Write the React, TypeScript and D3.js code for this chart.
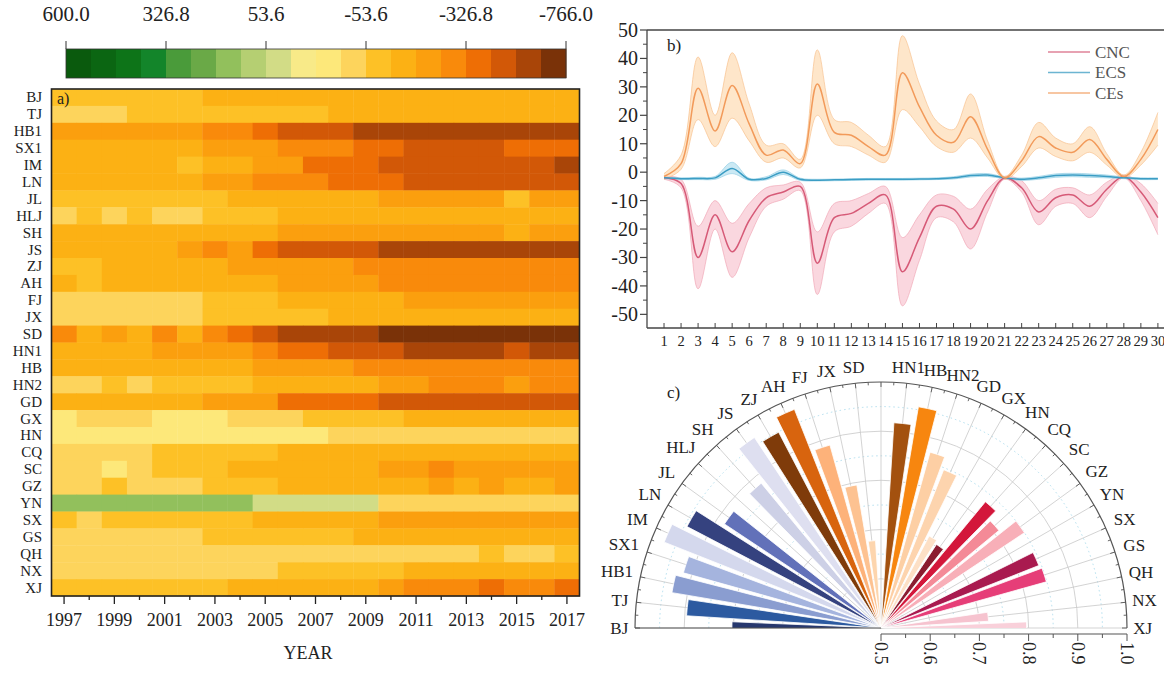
import React from 'react';
import * as d3 from 'd3';

const FONT = '"Liberation Serif", "Times New Roman", "DejaVu Serif", serif';
const W = 1164;
const H = 678;

// ---- panel a data ----
const provinces = ['BJ', 'TJ', 'HB1', 'SX1', 'IM', 'LN', 'JL', 'HLJ', 'SH', 'JS', 'ZJ', 'AH', 'FJ', 'JX', 'SD',
  'HN1', 'HB', 'HN2', 'GD', 'GX', 'HN', 'CQ', 'SC', 'GZ', 'YN', 'SX', 'GS', 'QH', 'NX', 'XJ'];
const years = [1997, 1998, 1999, 2000, 2001, 2002, 2003, 2004, 2005, 2006, 2007, 2008, 2009, 2010,
  2011, 2012, 2013, 2014, 2015, 2016, 2017];
const yearTickLabels = [1997, 1999, 2001, 2003, 2005, 2007, 2009, 2011, 2013, 2015, 2017];

// one row per province, one value per year
const heatValues = [
  [-88, -88, -88, -88, -88, -88, -156, -156, -156, -156, -156, -156, -156, -156, -156, -156, -156, -156, -156, -156, -156],
  [-40, -40, -40, -88, -88, -88, -88, -88, -88, -88, -88, -156, -156, -156, -156, -156, -156, -156, -156, -156, -156],
  [-224, -224, -224, -224, -224, -224, -292, -292, -380, -490, -490, -490, -600, -600, -600, -600, -600, -600, -600, -600, -600],
  [-156, -156, -156, -156, -156, -156, -224, -224, -224, -292, -292, -292, -380, -380, -490, -490, -490, -490, -380, -380, -380],
  [-156, -156, -156, -156, -156, -88, -156, -156, -224, -224, -380, -380, -380, -490, -490, -490, -490, -490, -490, -490, -600],
  [-156, -156, -156, -156, -156, -156, -224, -224, -292, -292, -292, -380, -380, -380, -490, -490, -490, -490, -490, -490, -490],
  [-88, -88, -88, -88, -88, -88, -88, -156, -156, -156, -156, -156, -156, -224, -224, -224, -224, -224, -88, -224, -224],
  [-40, -88, -40, -88, -40, -40, -88, -88, -88, -156, -156, -156, -156, -156, -156, -156, -156, -156, -156, -156, -156],
  [-156, -156, -156, -156, -156, -156, -156, -156, -156, -224, -224, -224, -224, -224, -224, -224, -224, -224, -156, -224, -224],
  [-156, -156, -156, -156, -156, -224, -292, -224, -380, -490, -490, -490, -490, -600, -600, -600, -600, -600, -600, -600, -600],
  [-88, -88, -156, -156, -156, -156, -156, -224, -224, -224, -224, -224, -292, -292, -292, -292, -292, -292, -292, -292, -292],
  [-156, -88, -156, -156, -156, -156, -156, -156, -156, -224, -224, -224, -224, -292, -292, -292, -292, -292, -292, -292, -292],
  [-40, -40, -40, -40, -40, -40, -88, -88, -88, -156, -156, -156, -156, -156, -224, -224, -224, -224, -224, -224, -224],
  [-40, -40, -40, -40, -40, -40, -88, -88, -88, -88, -88, -156, -156, -156, -156, -156, -156, -156, -156, -156, -156],
  [-292, -156, -224, -156, -292, -156, -292, -380, -490, -600, -600, -600, -600, -710, -710, -710, -710, -710, -710, -710, -710],
  [-156, -156, -156, -156, -224, -224, -224, -224, -292, -380, -380, -490, -490, -490, -600, -600, -600, -600, -490, -600, -600],
  [-156, -156, -156, -156, -156, -156, -156, -156, -224, -224, -224, -224, -292, -292, -292, -292, -292, -292, -292, -292, -292],
  [-40, -40, -88, -40, -88, -88, -88, -88, -156, -156, -156, -156, -156, -224, -224, -292, -292, -292, -224, -292, -292],
  [-156, -156, -156, -156, -156, -156, -224, -224, -224, -380, -380, -380, -380, -490, -490, -490, -490, -490, -490, -490, -490],
  [-13, -40, -40, -40, -13, -13, -13, -40, -40, -40, -88, -88, -88, -88, -156, -156, -156, -156, -156, -156, -156],
  [-13, -13, -13, -13, -13, -13, -13, -13, -13, -13, -13, -40, -40, -40, -40, -40, -40, -40, -40, -40, -40],
  [-40, -40, -40, -40, -88, -88, -88, -88, -88, -156, -156, -156, -156, -156, -156, -156, -156, -156, -156, -156, -156],
  [-40, -40, -13, -40, -88, -88, -88, -156, -156, -156, -156, -156, -156, -224, -224, -292, -224, -224, -224, -224, -224],
  [-40, -40, -88, -40, -40, -40, -88, -88, -88, -156, -156, -156, -156, -156, -156, -224, -156, -224, -156, -156, -224],
  [155, 155, 155, 155, 155, 155, 155, 155, 40, 40, 40, 40, 40, -40, -40, -40, -40, -40, -40, -40, -40],
  [-88, -40, -88, -88, -88, -88, -88, -88, -156, -156, -156, -156, -156, -224, -224, -224, -224, -224, -224, -224, -224],
  [-40, -40, -40, -40, -40, -40, -88, -88, -88, -88, -88, -88, -156, -156, -156, -156, -156, -156, -156, -156, -156],
  [-40, -40, -40, -40, -40, -40, -40, -40, -40, -40, -40, -40, -40, -40, -40, -40, -40, -88, -40, -40, -88],
  [-40, -40, -40, -40, -40, -40, -40, -40, -40, -88, -88, -88, -88, -88, -156, -156, -156, -156, -156, -156, -156],
  [-88, -88, -88, -88, -88, -88, -88, -156, -156, -156, -156, -156, -156, -224, -292, -292, -292, -380, -292, -292, -380],
];

const colorbarTicks = ['600.0', '326.8', '53.6', '-53.6', '-326.8', '-766.0'];
const colorEdges = [-656.2, -546.4, -436.6, -326.8, -258.5, -190.2, -121.9, -53.6, -26.8, 0,
  26.8, 53.6, 121.9, 190.2, 258.5, 326.8, 395.1, 463.4, 531.7];
// from 600 (green) to -766 (brown)
const levelColors = ['#0a5a0d', '#0b6612', '#0d7418', '#13852a', '#4a9b3a', '#6aa947', '#92c05c', '#b5cf72',
  '#d2dc86', '#f8ea88', '#fde87a', '#fdd45c', '#fdc126', '#fcb114', '#fb9f0e', '#f98a0b', '#ee6e05',
  '#d25807', '#a94508', '#7a3208'];

// ---- panel b data ----
const steps = [1, 2, 3, 4, 5, 6, 7, 8, 9, 10, 11, 12, 13, 14, 15, 16, 17, 18, 19, 20, 21, 22, 23, 24, 25, 26, 27, 28, 29, 30];
const cncMean = [-2, -4, -30, -15, -28, -17, -9, -7, -5, -32, -16, -14.5, -11, -8, -35, -23, -12, -13, -20, -10, -2, -5.5, -14, -9, -8, -12, -6, -1.5, -7, -16];
const cncHigh = [-1.5, -2.5, -19, -10, -18, -11, -5.5, -4.5, -3.5, -21, -11, -10, -7.5, -5, -23, -15, -8, -8.5, -13, -6, -1.5, -3, -10, -6, -5.5, -8, -3.5, -1, -4, -11];
const cncLow = [-2.5, -5.5, -41, -20, -37, -23, -12, -9.5, -6.5, -43, -21, -19, -14.5, -11, -47, -31, -16, -17.5, -27, -14, -2.5, -7, -18.5, -12, -11, -16, -8.5, -2, -10, -22];
const ecsMean = [-2, -2.3, -2.2, -2, 1.3, -2.5, -2.2, 0, -2.5, -2.8, -2.7, -2.6, -2.5, -2.5, -2.5, -2.4, -2.3, -2, -1.2, -1, -2, -2.5, -2, -1.2, -1, -1.2, -1.5, -2, -2.3, -2.3];
const ecsHigh = [-1.7, -2, -1.8, -1.5, 3.5, -2.1, -1.6, 0.8, -2.1, -2.5, -2.4, -2.3, -2.2, -2.2, -2.2, -2.1, -2, -1.6, -0.7, -0.5, -1.7, -2.1, -1.5, -0.6, -0.4, -0.6, -1, -1.7, -2, -2];
const ecsLow = [-2.3, -2.6, -2.6, -2.5, -0.5, -2.9, -2.7, -0.8, -2.9, -3.1, -3, -2.9, -2.8, -2.8, -2.8, -2.7, -2.6, -2.4, -1.7, -1.5, -2.3, -2.9, -2.5, -1.8, -1.6, -1.8, -2, -2.3, -2.6, -2.6];
const ceMean = [-1.5, 3, 29.5, 14.5, 30.5, 17, 6, 7.8, 3, 31, 14, 13, 9, 6, 35, 23, 13, 10.5, 19.5, 8, -2, 4, 12.5, 8.5, 7, 11.5, 4.5, -1.5, 4.5, 15];
const ceHigh = [-0.5, 6, 40.5, 20, 42, 24, 9.5, 10, 4.5, 43, 18.5, 17.5, 13, 9, 48, 31, 18, 15, 27.5, 11, -1.5, 6, 17.5, 12, 10, 16, 6.5, -1, 7, 21];
const ceLow = [-2.5, 1, 18.5, 9, 19, 11, 3.5, 5, 1.5, 20, 10, 9, 6, 3.5, 22, 16, 9, 7, 12, 5, -2.5, 2, 8.5, 5.5, 4, 7, 2.5, -2, 2.5, 9.5];
const yTicks = [50, 40, 30, 20, 10, 0, -10, -20, -30, -40, -50];

const series = [
  { name: 'CNC', mean: cncMean, low: cncLow, high: cncHigh, line: '#d65a77', band: '#f7bdc9', edge: '#efa2b2' },
  { name: 'ECS', mean: ecsMean, low: ecsLow, high: ecsHigh, line: '#3b9dc4', band: '#a8daec', edge: '#8ccbe2' },
  { name: 'CEs', mean: ceMean, low: ceLow, high: ceHigh, line: '#f29a5a', band: '#fdd5a6', edge: '#f7bd87' },
];

// ---- panel c data ----
const polarValues = [0.803, 0.896, 0.931, 0.917, 0.974, 0.945, 0.882, 0.47, 0.882, 0.965, 0.949, 0.978, 0.886, 0.795, 0.678,
  0.918, 0.956, 0.871, 0.846, 0.711, 0.704, 0.833, 0.811, 0.85, 0.47, 0.845, 0.849, 0.47, 0.719, 0.796];
const polarColors = ['#27386e', '#2c5aa0', '#8a9dd0', '#a5b4de', '#d4d8ed', '#35427f', '#6271b9', '#c9cde6', '#cdd0e6', '#dedff0',
  '#7f3b0a', '#d8640e', '#fdb27a', '#fdc291', '#fdd5ad', '#a3510f', '#f7860f', '#fdcfa4', '#fdd4ae', '#fde0c6',
  '#8b1c30', '#d3173b', '#f48a97', '#f8afb8', '#f2a3b0', '#a91a4f', '#e63e78', '#f08aa5', '#f6c3cf', '#f9d0da'];
const radialTicks = [0.5, 0.6, 0.7, 0.8, 0.9, 1.0];

// ---------- layout ----------
const heatX = d3.scaleBand<number>().domain(years).range([51.5, 579.5]);
const heatY = d3.scaleBand<string>().domain(provinces).range([89, 596]);
const heatColor = d3.scaleThreshold<number, string>().domain(colorEdges).range([...levelColors].reverse());
const cbX = d3.scaleLinear().domain([0, levelColors.length]).range([66, 566]);

const bx = d3.scaleLinear().domain([0, 30.3]).range([647, 1163]);
const by = d3.scaleLinear().domain([-54.8, 50]).range([328, 30]);

const cx = 881;
const cy = 628;
const R = 246;
const rScale = d3.scaleLinear().domain([0.5, 1]).range([0, R]).clamp(true);
// 31 slots of 6 degrees from left to right, the slot at 90 degrees stays empty
const slotAngle = d3.scaleLinear().domain([0, 30]).range([-Math.PI / 2, Math.PI / 2]);
const slotOf = (i: number) => (i < 15 ? i : i + 1);
const deg = Math.PI / 180;

const pt = (a: number, r: number): [number, number] => [cx + r * Math.sin(a), cy - r * Math.cos(a)];
const textWidth = (s: string, size: number) =>
  s.split('').reduce((w, ch) => w + (/[0-9]/.test(ch) ? 0.5 : ch === 'J' ? 0.42 : 0.72), 0) * size;

function HeatPanel() {
  return (
    <g>
      {levelColors.map((c, i) => (
        <rect key={i} x={cbX(i)} y={49} width={cbX(i + 1) - cbX(i) + 0.5} height={29} fill={c} />
      ))}
      <rect x={cbX(0)} y={49} width={cbX(20) - cbX(0)} height={29} fill="none" stroke="#333" strokeWidth={0.8} />
      {colorbarTicks.map((t, i) => (
        <g key={t}>
          <line x1={cbX(i * 4)} x2={cbX(i * 4)} y1={41} y2={49} stroke="#333" strokeWidth={1} />
          <text x={cbX(i * 4)} y={21} textAnchor="middle" fontSize={21} fill="#222">{t}</text>
        </g>
      ))}

      {heatValues.map((row, r) =>
        row.map((v, c) => (
          <rect key={`${r}-${c}`} x={heatX(years[c])} y={heatY(provinces[r])}
            width={heatX.bandwidth() + 0.4} height={heatY.bandwidth() + 0.4} fill={heatColor(v)} />
        ))
      )}
      <rect x={51.5} y={89} width={528} height={507} fill="none" stroke="#222" strokeWidth={1.6} />
      <text x={57} y={104} fontSize={16} fill="#222">a)</text>

      {provinces.map(p => (
        <text key={p} x={42} y={(heatY(p) as number) + heatY.bandwidth() / 2} textAnchor="end"
          dominantBaseline="central" fontSize={15} fill="#222">{p}</text>
      ))}
      {years.map(yr => {
        const xc = (heatX(yr) as number) + heatX.bandwidth() / 2;
        const major = yearTickLabels.includes(yr);
        return (
          <g key={yr}>
            <line x1={xc} x2={xc} y1={596} y2={596 + (major ? 8 : 4)} stroke="#222" strokeWidth={1.3} />
            {major && <text x={xc} y={626} textAnchor="middle" fontSize={18} fill="#222">{yr}</text>}
          </g>
        );
      })}
      <text x={308} y={659} textAnchor="middle" fontSize={18} fill="#222">YEAR</text>
    </g>
  );
}

function LinePanel() {
  const curve = d3.curveCatmullRom.alpha(0.5);
  const area = (lo: number[], hi: number[]) =>
    d3.area<number>().x(d => bx(d)).y0((_, i) => by(lo[i])).y1((_, i) => by(hi[i])).curve(curve)(steps) || '';
  const line = (vals: number[]) =>
    d3.line<number>().x(d => bx(d)).y((_, i) => by(vals[i])).curve(curve)(steps) || '';
  const minor = d3.range(-50, 51, 5).filter(v => v % 10 !== 0);
  return (
    <g>
      <defs>
        <clipPath id="bclip"><rect x={647} y={30} width={W - 647} height={298} /></clipPath>
      </defs>
      <g clipPath="url(#bclip)">
        {series.map(s => (
          <g key={s.name}>
            <path d={area(s.low, s.high)} fill={s.band} opacity={0.6} />
            <path d={line(s.high)} fill="none" stroke={s.edge} strokeWidth={0.8} opacity={0.8} />
            <path d={line(s.low)} fill="none" stroke={s.edge} strokeWidth={0.8} opacity={0.8} />
          </g>
        ))}
        {series.map(s => (
          <path key={s.name} d={line(s.mean)} fill="none" stroke={s.line} strokeWidth={1.5} />
        ))}
      </g>
      <line x1={647} x2={W} y1={30} y2={30} stroke="#444" strokeWidth={1.3} />
      <line x1={647} x2={647} y1={30} y2={328} stroke="#444" strokeWidth={1.3} />
      <line x1={647} x2={W} y1={328} y2={328} stroke="#444" strokeWidth={1.3} />
      {yTicks.map(t => (
        <g key={t}>
          <line x1={640} x2={647} y1={by(t)} y2={by(t)} stroke="#444" strokeWidth={1.2} />
          <text x={638} y={by(t)} textAnchor="end" dominantBaseline="central" fontSize={20} fill="#222">{t}</text>
        </g>
      ))}
      {minor.map(t => (
        <line key={t} x1={643} x2={647} y1={by(t)} y2={by(t)} stroke="#444" strokeWidth={1} />
      ))}
      {steps.map(s => (
        <g key={s}>
          <line x1={bx(s)} x2={bx(s)} y1={328} y2={323} stroke="#444" strokeWidth={1} />
          <text x={bx(s)} y={346} textAnchor="middle" fontSize={14.5} fill="#222">{s}</text>
        </g>
      ))}
      <text x={667} y={51} fontSize={17} fill="#222">b)</text>
      {series.map((s, i) => (
        <g key={s.name}>
          <line x1={1048} x2={1090} y1={52 + i * 20.5} y2={52 + i * 20.5} stroke={s.line} strokeWidth={1.3} opacity={0.75} />
          <text x={1095} y={52 + i * 20.5} dominantBaseline="central" fontSize={17} fill="#555">{s.name}</text>
        </g>
      ))}
    </g>
  );
}

function PolarPanel() {
  const barW = 4.8 * deg;
  const arc = d3.arc<{ a: number; r: number }>()
    .innerRadius(0)
    .outerRadius(d => d.r)
    .startAngle(d => d.a - barW / 2)
    .endAngle(d => d.a + barW / 2);
  const halfCircle = (r: number) => {
    const p = d3.path();
    p.arc(cx, cy, r, Math.PI, 2 * Math.PI);
    return p.toString();
  };
  const spokes = d3.range(0, 31).map(k => slotAngle(k));
  const arcTicks = d3.range(0, 61).map(k => -Math.PI / 2 + k * 3 * deg);
  const radialMinor = [0.55, 0.65, 0.75, 0.85, 0.95];
  return (
    <g>
      <defs>
        <clipPath id="cclip"><rect x={600} y={360} width={W - 600} height={cy - 360} /></clipPath>
      </defs>
      {radialMinor.map(v => (
        <path key={v} d={halfCircle(rScale(v))} fill="none" stroke="#9fd6ea" strokeWidth={0.8} strokeDasharray="1.5 3" />
      ))}
      {[0.6, 0.7, 0.8, 0.9].map(v => (
        <path key={v} d={halfCircle(rScale(v))} fill="none" stroke="#c8c8c8" strokeWidth={0.8} />
      ))}
      {spokes.map((a, k) => {
        const [x2, y2] = pt(a, R);
        return <line key={k} x1={cx} y1={cy} x2={x2} y2={y2} stroke="#c8c8c8" strokeWidth={0.8} />;
      })}
      <g clipPath="url(#cclip)">
        {polarValues.map((v, i) => {
          if (v <= 0.5) return null;
          const d = arc({ a: slotAngle(slotOf(i)), r: rScale(v) }) || '';
          return <path key={provinces[i]} d={d} transform={`translate(${cx},${cy})`} fill={polarColors[i]}
            stroke="#fff" strokeWidth={0.8} />;
        })}
      </g>
      <path d={halfCircle(R)} fill="none" stroke="#555" strokeWidth={1.2} />
      {arcTicks.map((a, k) => {
        const [x1, y1] = pt(a, R);
        const [x2, y2] = pt(a, R - (k % 2 === 0 ? 5 : 3));
        return <line key={k} x1={x1} y1={y1} x2={x2} y2={y2} stroke="#555" strokeWidth={0.9} />;
      })}
      <line x1={cx - R} x2={cx} y1={cy} y2={cy} stroke="#555" strokeWidth={1.1} />
      <line x1={cx} x2={cx + R} y1={cy + 6} y2={cy + 6} stroke="#555" strokeWidth={1.1} />
      {d3.range(0, 11).map(k => {
        const v = 0.5 + k * 0.05;
        const xv = cx + rScale(v);
        return <line key={k} x1={xv} x2={xv} y1={cy + 6} y2={cy + 6 + (k % 2 === 0 ? 7 : 4)} stroke="#555" strokeWidth={1} />;
      })}
      {radialTicks.map(v => (
        <text key={v} transform={`translate(${cx + rScale(v)},${cy + 14}) rotate(90)`} textAnchor="start"
          dominantBaseline="central" fontSize={18} fill="#222">{v.toFixed(1)}</text>
      ))}
      {provinces.map((p, i) => {
        const a = slotAngle(slotOf(i));
        const size = 17;
        const w = textWidth(p, size);
        const off = 6 + (w / 2) * Math.abs(Math.sin(a)) + (size * 0.5) * Math.abs(Math.cos(a));
        const [x, y] = pt(a, R + off);
        return (
          <text key={p} x={x} y={y} textAnchor="middle" dominantBaseline="central" fontSize={size} fill="#222">{p}</text>
        );
      })}
      <text x={667} y={398} fontSize={17} fill="#222">c)</text>
    </g>
  );
}

export default function App() {
  return (
    <svg width={W} height={H} viewBox={`0 0 ${W} ${H}`} fontFamily={FONT}
      style={{ position: 'absolute', left: 0, top: 0, background: '#fff' }}>
      <rect x={0} y={0} width={W} height={H} fill="#fff" />
      <HeatPanel />
      <LinePanel />
      <PolarPanel />
    </svg>
  );
}
